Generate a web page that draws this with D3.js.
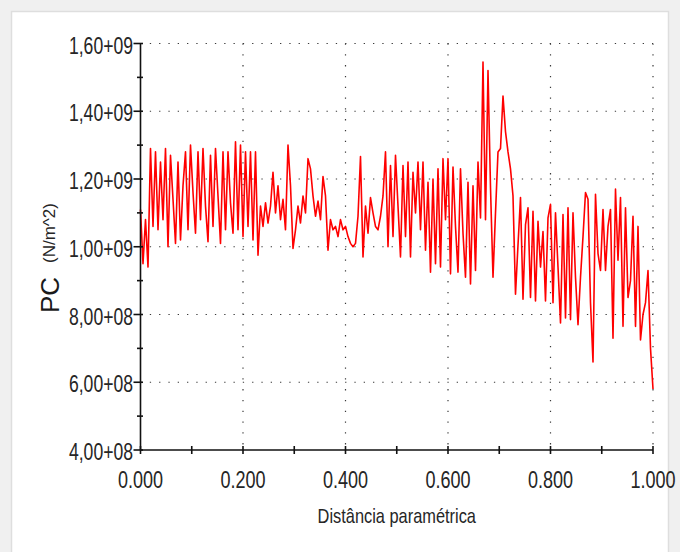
<!DOCTYPE html>
<html>
<head>
<meta charset="utf-8">
<script src="https://cdn.jsdelivr.net/npm/d3@7"></script>
<style>
  html, body { margin: 0; padding: 0; background: #f0f0f0; }
  svg { display: block; }
</style>
</head>
<body>
<script>
// ---- data (PC values in units of 1e8 N/m^2, evenly spaced along parametric distance 0..1) ----
const pcValues = [
  11.1, 9.5, 10.8, 9.4, 12.9, 10.6, 12.8, 10.5, 12.5, 10.8,
  12.9, 10.0, 12.7, 11.4, 10.1, 12.5, 10.2, 11.8, 12.8, 10.5,
  13.0, 11.6, 10.4, 12.8, 10.8, 12.9, 11.2, 10.15, 12.7, 10.6,
  12.9, 11.5, 10.1, 12.8, 10.5, 12.8, 11.3, 10.4, 13.1, 10.5,
  13.0, 10.3, 12.8, 10.6, 12.8, 10.2, 12.8, 9.75, 11.2, 10.6,
  11.3, 10.7, 11.2, 12.2, 11.0, 11.8, 10.8, 11.4, 10.5, 13.0,
  11.8, 9.95, 10.5, 11.2, 10.7, 11.5, 11.0, 12.6, 12.3, 11.5,
  10.9, 11.35, 10.8, 12.07, 11.5, 9.9, 10.8, 10.5, 10.6, 10.3,
  10.8, 10.5, 10.6, 10.3, 10.1, 10.0, 10.1, 10.9, 12.66, 9.7,
  11.2, 10.4, 11.45, 11.0, 10.6, 10.5, 10.9, 11.5, 12.8, 10.0,
  12.4, 10.3, 12.7, 11.2, 9.7, 12.4, 10.3, 12.5, 9.7, 12.2,
  11.0, 12.5, 10.5, 12.5, 9.9, 11.9, 9.25, 12.0, 9.5, 12.3,
  9.4, 12.6, 10.8, 12.6, 9.2, 12.35, 10.6, 9.25, 12.3, 10.4,
  9.1, 11.9, 8.9, 11.8, 9.3, 12.5, 10.85, 15.45, 10.8, 15.2,
  11.75, 9.1, 11.0, 12.8, 12.9, 14.45, 13.4, 12.8, 12.3, 11.5,
  8.6, 10.05, 11.45, 8.45, 10.65, 11.15, 8.5, 11.05, 8.4, 10.75,
  9.4, 10.45, 8.4, 10.85, 11.25, 8.35, 11.0, 9.4, 7.75, 10.95,
  7.9, 11.15, 7.85, 11.0, 9.1, 7.7, 9.1, 10.3, 11.6, 11.4,
  8.35, 6.6, 11.55, 9.8, 9.3, 11.1, 9.3, 10.6, 11.1, 7.3,
  11.7, 9.6, 11.45, 7.65, 11.15, 8.5, 9.0, 10.9, 7.65, 10.6,
  7.25, 8.0, 8.35, 9.3, 7.0, 5.8
];
const xTickValues = [0, 0.2, 0.4, 0.6, 0.8, 1.0];
const xTickLabels = ["0.000", "0.200", "0.400", "0.600", "0.800", "1.000"];
const xMinorTicks = [0.1, 0.3, 0.5, 0.7, 0.9];
const yTickValues = [4, 6, 8, 10, 12, 14, 16];
const yTickLabels = ["4,00+08", "6,00+08", "8,00+08", "1,00+09", "1,20+09", "1,40+09", "1,60+09"];
const yMinorTicks = [5, 7, 9, 11, 13, 15];
const xTitle = "Distância paramétrica";
const yTitleMain = "PC";
const yTitleUnit = "(N/m^2)";

// ---- layout ----
const W = 680, H = 552;
const plotL = 140.5, plotR = 653, plotT = 43.5, plotB = 450;
const font = "'Liberation Sans',Arial,sans-serif";

const svg = d3.select("body").append("svg").attr("width", W).attr("height", H);

// panel
svg.append("rect").attr("x", 0).attr("y", 0).attr("width", W).attr("height", H).attr("fill", "#f0f0f0");
svg.append("rect").attr("x", 11.5).attr("y", 11.5).attr("width", 657).attr("height", 560)
  .attr("fill", "#ffffff").attr("stroke", "#dedede").attr("stroke-width", 1.5);

const x = d3.scaleLinear().domain([0, 1]).range([plotL, plotR]);
const y = d3.scaleLinear().domain([4, 16]).range([plotB, plotT]);

// grid (dotted)
const grid = svg.append("g").attr("stroke", "#3a3a3a").attr("stroke-width", 1.2);
grid.selectAll("line.h").data(yTickValues.filter(v => v > 4)).enter().append("line")
  .attr("x1", plotL).attr("x2", plotR).attr("y1", d => y(d)).attr("y2", d => y(d))
  .attr("stroke-dasharray", "1.3,8");
grid.selectAll("line.v").data(xTickValues.filter(v => v > 0)).enter().append("line")
  .attr("y1", plotT).attr("y2", plotB).attr("x1", d => x(d)).attr("x2", d => x(d))
  .attr("stroke-dasharray", "1.3,9.5");

// data line
const n = pcValues.length;
const line = d3.line().x((d, i) => x(i / (n - 1))).y(d => y(d));
svg.append("path").datum(pcValues).attr("d", line)
  .attr("fill", "none").attr("stroke", "#ff0000").attr("stroke-width", 1.6)
  .attr("stroke-linejoin", "round");

// axes
const ax = svg.append("g").attr("stroke", "#111").attr("stroke-width", 1.6);
ax.append("line").attr("x1", plotL).attr("x2", plotL).attr("y1", plotT).attr("y2", plotB);
ax.append("line").attr("x1", plotL).attr("x2", plotR).attr("y1", plotB).attr("y2", plotB);
ax.selectAll("line.ymaj").data(yTickValues).enter().append("line")
  .attr("x1", plotL - 7).attr("x2", plotL + 2.5).attr("y1", d => y(d)).attr("y2", d => y(d));
ax.selectAll("line.ymin").data(yMinorTicks).enter().append("line")
  .attr("x1", plotL - 3.5).attr("x2", plotL + 2.5).attr("y1", d => y(d)).attr("y2", d => y(d));
ax.selectAll("line.xmaj").data(xTickValues.concat(xMinorTicks)).enter().append("line")
  .attr("y1", plotB - 4).attr("y2", plotB + 4).attr("x1", d => x(d)).attr("x2", d => x(d));

// tick labels (condensed look via horizontal scale)
svg.selectAll("text.yl").data(yTickValues).enter().append("text")
  .attr("transform", d => `translate(${plotL - 7.5},${y(d) + 10}) scale(0.8,1.1)`)
  .attr("text-anchor", "end").attr("font-family", font).attr("font-size", 22)
  .attr("fill", "#262626").text((d, i) => yTickLabels[i]);
svg.selectAll("text.xl").data(xTickValues).enter().append("text")
  .attr("transform", d => `translate(${x(d)},${488}) scale(0.82,1.1)`)
  .attr("text-anchor", "middle").attr("font-family", font).attr("font-size", 22)
  .attr("fill", "#262626").text((d, i) => xTickLabels[i]);

// axis titles
svg.append("text").attr("transform", `translate(${(plotL + plotR) / 2},523) scale(0.82,1)`)
  .attr("text-anchor", "middle").attr("font-family", font).attr("font-size", 20)
  .attr("fill", "#262626").text(xTitle);
svg.append("text").attr("transform", "translate(59,313) rotate(-90)")
  .attr("font-family", font).attr("font-size", 26).attr("fill", "#1a1a1a").text(yTitleMain);
svg.append("text").attr("transform", "translate(55,263) rotate(-90)")
  .attr("font-family", font).attr("font-size", 17).attr("fill", "#262626").text(yTitleUnit);
</script>
</body>
</html>
